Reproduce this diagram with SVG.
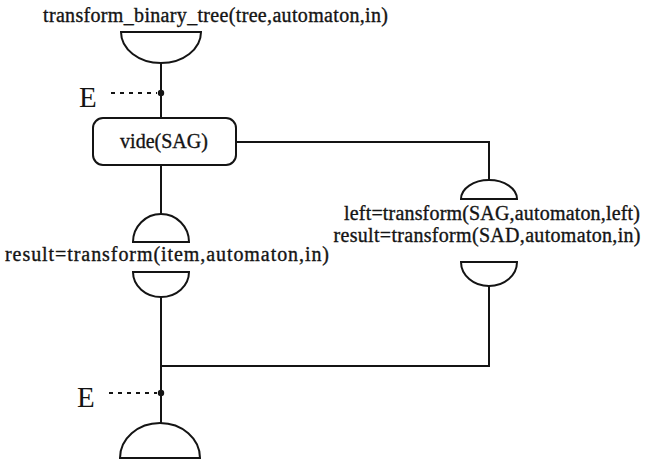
<svg xmlns="http://www.w3.org/2000/svg" width="651" height="460" viewBox="0 0 651 460">
  <style>
    .ln { fill: none; stroke: #141414; stroke-width: 2; }
    .sh { fill: #ffffff; stroke: #141414; stroke-width: 2; }
    .dash { fill: none; stroke: #141414; stroke-width: 1.8; stroke-dasharray: 4 5; }
    .tx { font-family: "Liberation Serif", "Times New Roman", serif; font-size: 20px; fill: #141414; stroke: #141414; stroke-width: 0.35; }
    .big { font-family: "Liberation Serif", "Times New Roman", serif; font-size: 29px; fill: #141414; }
  </style>
  <rect width="651" height="460" fill="#ffffff"/>

  <!-- connectors -->
  <g id="connectors">
    <path class="ln" d="M161,63 V118"/>
    <path class="ln" d="M236,142 H489 V181"/>
    <path class="ln" d="M161,165 V214"/>
    <path class="ln" d="M161,297 V423"/>
    <path class="ln" d="M489,286 V366 H161"/>
    <!-- event markers -->
    <path class="dash" d="M111,93 H157"/>
    <circle cx="161" cy="93" r="3.2" fill="#141414"/>
    <text class="big" x="79" y="107">E</text>
    <path class="dash" d="M109,393 H157"/>
    <circle cx="161" cy="393" r="3.2" fill="#141414"/>
    <text class="big" x="77" y="407">E</text>
  </g>

  <!-- entry: transform_binary_tree -->
  <g id="entry">
    <text class="tx" x="43" y="22" textLength="345" lengthAdjust="spacing">transform_binary_tree(tree,automaton,in)</text>
    <path class="sh" d="M121,32 H201 A40,31 0 0 1 121,32 Z"/>
  </g>

  <!-- test node -->
  <g id="vide">
    <rect class="sh" x="93" y="118" width="143" height="47" rx="10" ry="10"/>
    <text class="tx" x="164" y="148" text-anchor="middle">vide(SAG)</text>
  </g>

  <!-- leaf branch -->
  <g id="leaf">
    <path class="sh" d="M133,242 H189 A28,28 0 0 0 133,242 Z"/>
    <text class="tx" x="5" y="261" textLength="324" lengthAdjust="spacing">result=transform(item,automaton,in)</text>
    <path class="sh" d="M133,272 H189 A28,25 0 0 1 133,272 Z"/>
  </g>

  <!-- subtree branch -->
  <g id="subtree">
    <path class="sh" d="M461,199 H517 A28,19 0 0 0 461,199 Z"/>
    <text class="tx" x="492" y="220" text-anchor="middle" textLength="296" lengthAdjust="spacing">left=transform(SAG,automaton,left)</text>
    <text class="tx" x="487" y="242" text-anchor="middle" textLength="307" lengthAdjust="spacing">result=transform(SAD,automaton,in)</text>
    <path class="sh" d="M461,262 H517 A28,24 0 0 1 461,262 Z"/>
  </g>

  <!-- exit -->
  <g id="exit">
    <path class="sh" d="M120,458 H200 A40,35 0 0 0 120,458 Z"/>
  </g>
</svg>
